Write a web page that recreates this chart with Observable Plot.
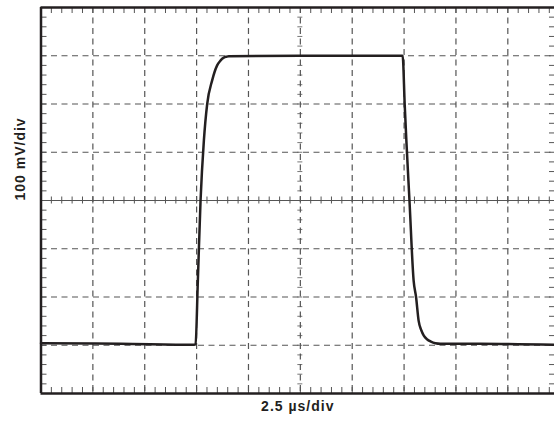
<!DOCTYPE html>
<html><head><meta charset="utf-8">
<script src="https://cdn.jsdelivr.net/npm/d3@7"></script>
<script src="https://cdn.jsdelivr.net/npm/@observablehq/plot@0.6"></script>
<style>html,body{margin:0;padding:0;background:#fff;overflow:hidden} .lbl text{letter-spacing:1px}</style>
</head><body><div id="chart"></div>
<script>
// Waveform (time in µs from left edge, voltage in mV from centre line)
const timeUs = [0, 3.84, 7.38, 7.45, 7.56, 7.69, 7.85, 8.01, 8.25, 8.49, 8.65, 8.81, 8.94, 9.05, 12.5,
  17.43, 17.53, 17.61, 17.76, 17.96, 18.08, 18.2, 18.33, 18.45, 18.62, 18.77, 19.01, 19.25, 21.18, 24.74];
const voltageMv = [-296, -297, -299, -298, -166, 0, 124, 200, 249, 280, 290, 296, 298, 299, 300,
  300, 199, 124, 0, -166, -201, -249, -269, -280, -288, -292, -296, -297, -297, -299];
const xLabel = "2.5 µs/div";
const yLabel = "100 mV/div";
const xMajor = [2.5, 5, 7.5, 10, 15, 17.5, 20, 22.5];
const xCenter = [12.5];
const yMajor = [-300, -200, -100, 100, 200, 300];
const yCenter = [0];
const xMinor = d3.range(0.5, 24.75, 0.5);
const yMinor = d3.range(-380, 400, 20);

const W = 554, H = 423, mL = 40.5, mR = 0, mT = 7, mB = 30;
const xMax = 24.75, yMin = -400, yMax = 400;
const xPerPx = xMax / (W - mL - mR);
const yPerPx = (yMax - yMin) / (H - mT - mB);
const data = timeUs.map((t, i) => ({t, v: voltageMv[i]}));
const ink = "#231f20", grid = "#555";
const dash = {stroke: grid, strokeWidth: 1.2, strokeDasharray: "6,4.5"};
const tk = {stroke: grid, strokeWidth: 1};

const chart = Plot.plot({
  width: W, height: H,
  marginLeft: mL, marginRight: mR, marginTop: mT, marginBottom: mB,
  x: {domain: [0, xMax], axis: null},
  y: {domain: [yMin, yMax], axis: null},
  style: {fontFamily: "'Liberation Sans', Arial, sans-serif", background: "#fff"},
  marks: [
    Plot.ruleX(xMajor, dash),
    Plot.ruleX(xCenter, dash),
    Plot.ruleY(yMajor, dash),
    Plot.ruleY(yCenter, {stroke: grid, strokeWidth: 1}),
    // border minor ticks
    Plot.ruleX(xMinor, {...tk, y1: yMin, y2: yMin + 6 * yPerPx}),
    Plot.ruleX(xMinor, {...tk, y1: yMax, y2: yMax - 6 * yPerPx}),
    Plot.ruleY(yMinor, {...tk, x1: 0, x2: 6 * xPerPx}),
    Plot.ruleY(yMinor, {...tk, x1: xMax, x2: xMax - 5 * xPerPx}),
    // centre-line cross ticks
    Plot.ruleX(xMinor, {...tk, y1: -3.5 * yPerPx, y2: 3.5 * yPerPx}),
    Plot.ruleY(yMinor, {stroke: grid, strokeWidth: 0.8, x1: xCenter[0] - 2.5 * xPerPx, x2: xCenter[0] + 2.5 * xPerPx}),
    // frame (right edge lies outside the picture)
    Plot.ruleY([yMin, yMax], {stroke: ink, strokeWidth: 2.5}),
    Plot.ruleX([0], {stroke: ink, strokeWidth: 2.5}),
    Plot.line(data, {x: "t", y: "v", stroke: ink, strokeWidth: 2.5, strokeLinejoin: "round", curve: "monotone-x"}),
    Plot.text([xLabel], {frameAnchor: "bottom", dy: 17, fontSize: 14, fontWeight: "bold", fill: ink, className: "lbl"}),
    Plot.text([yLabel], {frameAnchor: "left", rotate: -90, dx: -20, dy: 0, fontSize: 14, fontWeight: "bold", fill: ink, className: "lbl"})
  ]
});
document.getElementById("chart").appendChild(chart);
</script></body></html>
